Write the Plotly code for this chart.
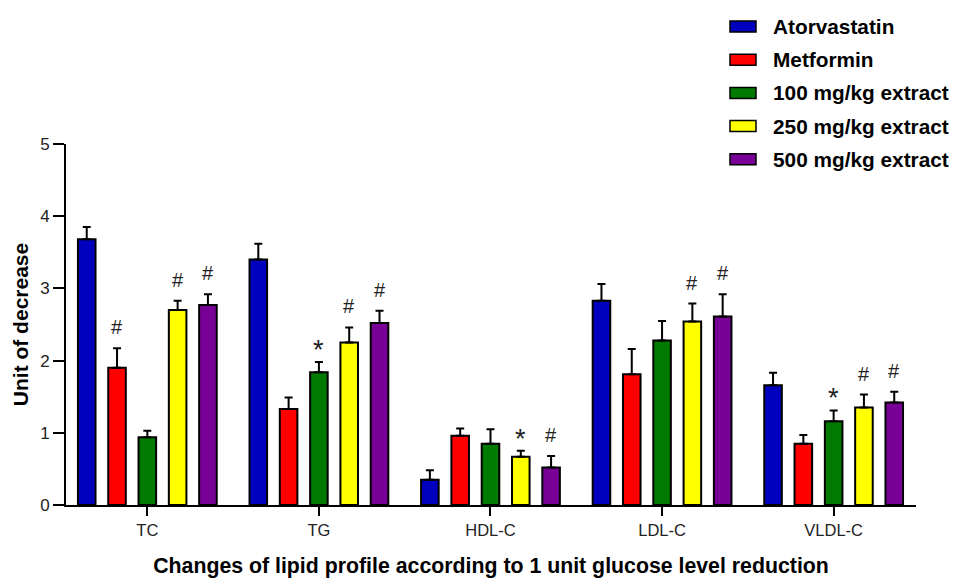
import plotly.graph_objects as go

# Lipid parameters on the category axis
categories = ["TC", "TG", "HDL-C", "LDL-C", "VLDL-C"]

# Treatment groups, their bar colours and mean decrease / error per parameter
groups = ["Atorvastatin", "Metformin", "100 mg/kg extract", "250 mg/kg extract", "500 mg/kg extract"]
colors = ["#0000BE", "#FF0000", "#007A00", "#FFFF00", "#780096"]

atorvastatin = [3.68, 3.40, 0.35, 2.83, 1.66]
metformin = [1.90, 1.33, 0.96, 1.81, 0.85]
extract_100 = [0.94, 1.84, 0.85, 2.28, 1.16]
extract_250 = [2.70, 2.25, 0.67, 2.54, 1.35]
extract_500 = [2.77, 2.52, 0.52, 2.61, 1.42]

atorvastatin_err = [0.17, 0.22, 0.13, 0.23, 0.17]
metformin_err = [0.27, 0.16, 0.10, 0.35, 0.12]
extract_100_err = [0.09, 0.14, 0.20, 0.27, 0.15]
extract_250_err = [0.13, 0.21, 0.08, 0.25, 0.18]
extract_500_err = [0.15, 0.17, 0.16, 0.31, 0.15]

# Significance markers drawn above each bar
atorvastatin_sig = ["", "", "", "", ""]
metformin_sig = ["#", "", "", "", ""]
extract_100_sig = ["", "*", "", "", "*"]
extract_250_sig = ["#", "#", "*", "#", "#"]
extract_500_sig = ["#", "#", "#", "#", "#"]

y_ticks = [0, 1, 2, 3, 4, 5]

means = [atorvastatin, metformin, extract_100, extract_250, extract_500]
errors = [atorvastatin_err, metformin_err, extract_100_err, extract_250_err, extract_500_err]
marks = [atorvastatin_sig, metformin_sig, extract_100_sig, extract_250_sig, extract_500_sig]

W, H = 955, 581
M_L, M_R, M_T, M_B = 66, 39, 144, 76
BARGAP = 0.117
BARGROUPGAP = 0.42
FONT = "Liberation Sans, Arial, sans-serif"

fig = go.Figure()
for name, col, vals, err in zip(groups, colors, means, errors):
    fig.add_trace(go.Bar(
        name=name, x=categories, y=vals,
        marker=dict(color=col, line=dict(color="black", width=2)),
        error_y=dict(type="data", symmetric=False, array=err,
                     arrayminus=[0] * len(err), color="black",
                     thickness=2, width=4),
        showlegend=False,
    ))

# Significance symbols, placed at the centre of each grouped bar
n = len(groups)
slot = (1 - BARGAP) / n
annotations = []
for i, (vals, err, sig) in enumerate(zip(means, errors, marks)):
    for j, s in enumerate(sig):
        if not s:
            continue
        xc = j - (1 - BARGAP) / 2 + slot * (i + 0.5)
        star = s == "*"
        annotations.append(dict(
            x=xc, y=vals[j] + err[j], xref="x", yref="y",
            text=s, showarrow=False, xanchor="center", yanchor="middle",
            yshift=12 if star else 21,
            font=dict(family=FONT, size=27 if star else 20, color="#222222"),
        ))

# Legend: rectangular swatches with bold labels in the top right corner
pw, ph = W - M_L - M_R, H - M_T - M_B
def px_x(p):
    return (p - M_L) / pw
def px_y(p):
    return (H - M_B - p) / ph

shapes = []
for k, (name, col) in enumerate(zip(groups, colors)):
    cy = 26.5 + 33.2 * k
    shapes.append(dict(
        type="rect", xref="paper", yref="paper",
        x0=px_x(730), x1=px_x(756), y0=px_y(cy - 5.5), y1=px_y(cy + 5.5),
        fillcolor=col, line=dict(color="black", width=1.5),
    ))
    annotations.append(dict(
        x=px_x(771), y=px_y(cy), xref="paper", yref="paper",
        text=name, showarrow=False, xanchor="left", yanchor="middle",
        font=dict(family=FONT, size=20.8, color="black", weight="bold"),
    ))

fig.update_layout(
    width=W, height=H,
    margin=dict(l=M_L, r=M_R, t=M_T, b=M_B, autoexpand=False),
    paper_bgcolor="white", plot_bgcolor="white",
    barmode="group", bargap=BARGAP, bargroupgap=BARGROUPGAP,
    annotations=annotations, shapes=shapes,
    font=dict(family=FONT),
)
fig.update_xaxes(
    range=[-0.474, 4.48], showgrid=False, zeroline=False, automargin=False,
    showline=True, linecolor="black", linewidth=2,
    ticks="outside", ticklen=9, tickwidth=2, tickcolor="black",
    tickfont=dict(family=FONT, size=16.5, color="#222222"),
    title=dict(text="Changes of lipid profile according to 1 unit glucose level reduction",
               font=dict(family=FONT, size=21.3, color="black", weight="bold"),
               standoff=20),
)
fig.update_yaxes(
    range=[0, 5], tickvals=y_ticks, showgrid=False, zeroline=False, automargin=False,
    showline=True, linecolor="black", linewidth=2,
    ticks="outside", ticklen=11, tickwidth=2, tickcolor="black",
    tickfont=dict(family=FONT, size=17, color="#222222"),
    title=dict(text="Unit of decrease",
               font=dict(family=FONT, size=21, color="black", weight="bold"),
               standoff=6),
)

fig.write_html("out.html")
